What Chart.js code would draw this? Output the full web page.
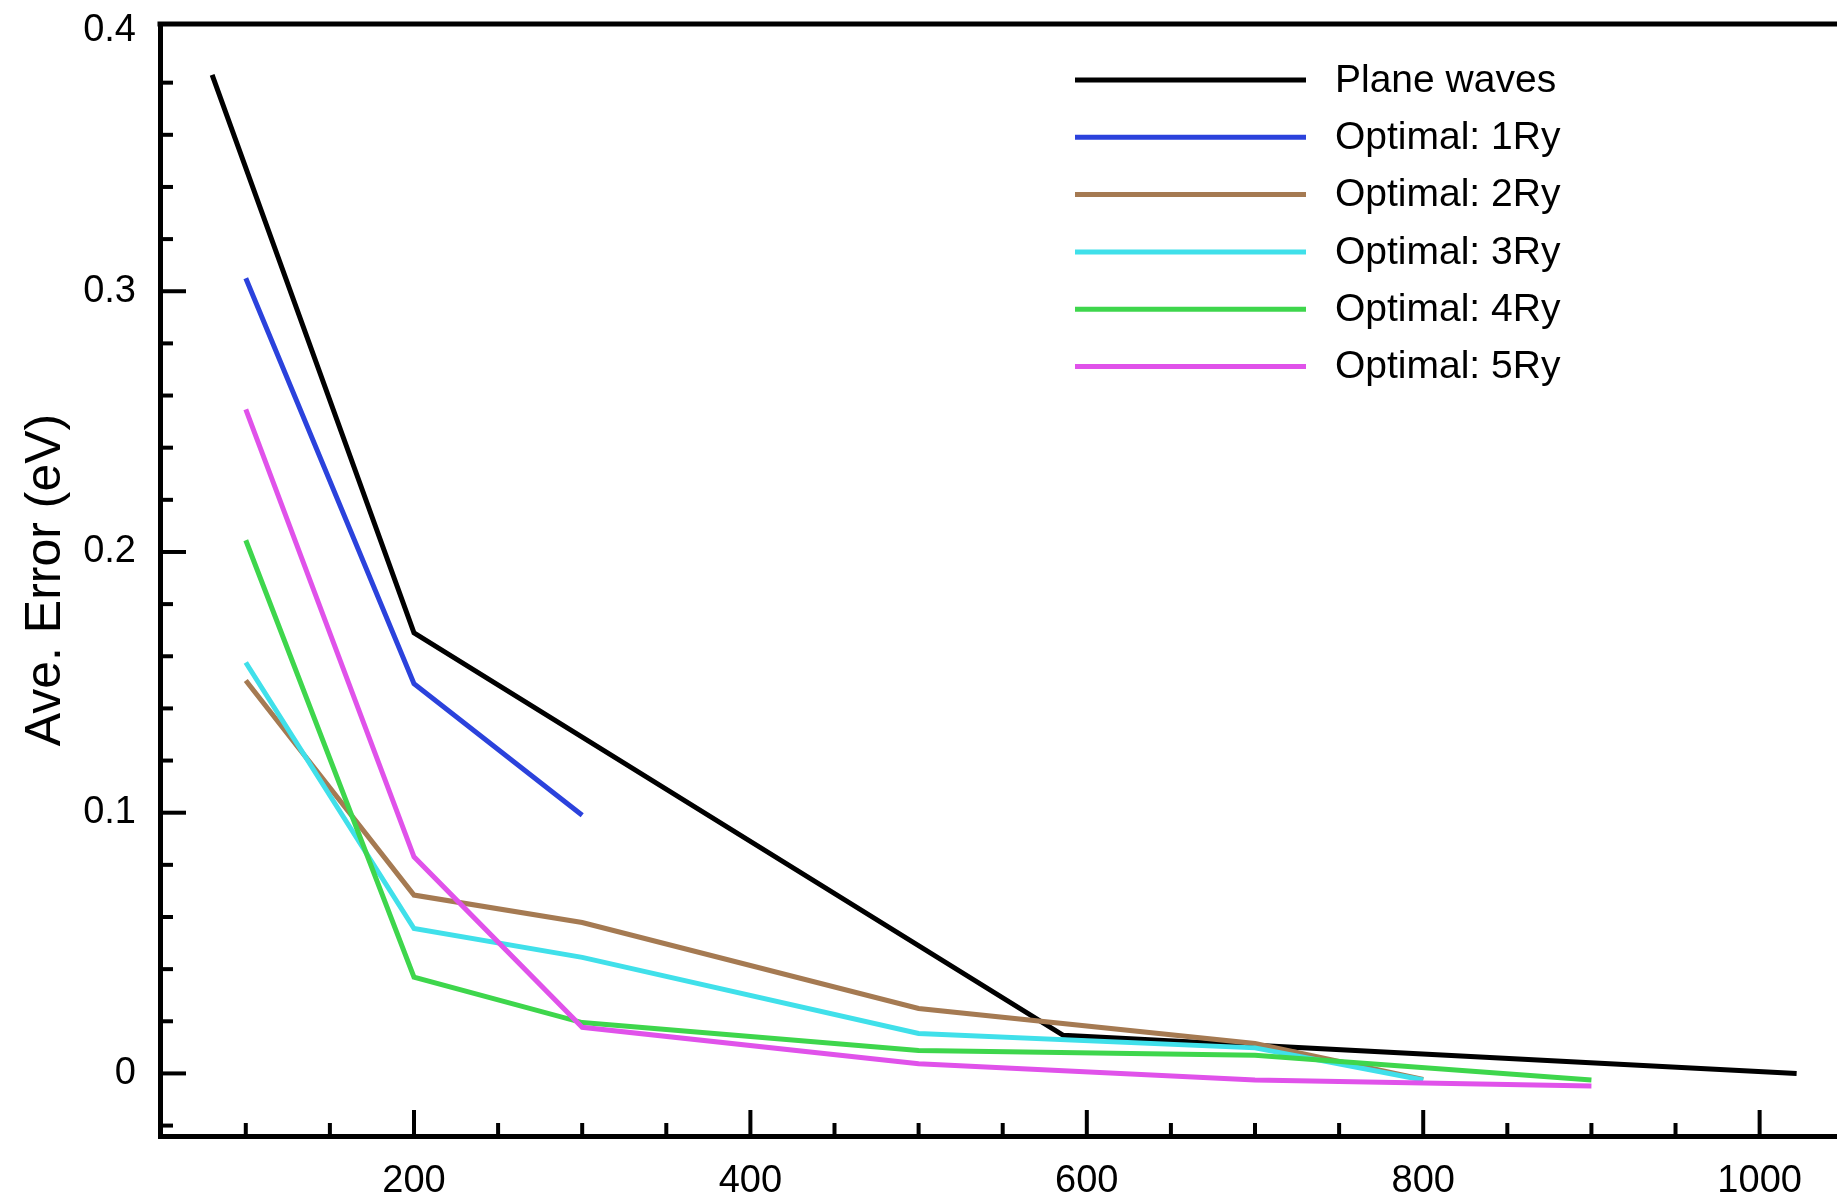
<!DOCTYPE html>
<html>
<head>
<meta charset="utf-8">
<script src="https://cdn.jsdelivr.net/npm/chart.js"></script>
<style>
  html, body { margin: 0; padding: 0; background: #fff; }
  #wrap { width: 1837px; height: 1201px; }
</style>
</head>
<body>
<div id="wrap"><canvas id="errChart" width="1837" height="1201"></canvas></div>
<script>
// datos
const seriesNames = ['Plane waves', 'Optimal: 1Ry', 'Optimal: 2Ry', 'Optimal: 3Ry', 'Optimal: 4Ry', 'Optimal: 5Ry'];
const seriesColors = ['#000000', '#2b42dc', '#a57a52', '#40e0ea', '#3ed64c', '#e052ea'];

const pwX = [80, 200, 586, 1022];
const pwY = [0.383, 0.169, 0.0146, 0.0];
const ry1X = [100, 200, 300];
const ry1Y = [0.305, 0.1495, 0.099];
const ry2X = [100, 200, 300, 500, 700, 800];
const ry2Y = [0.1507, 0.0684, 0.0579, 0.0249, 0.0115, -0.0023];
const ry3X = [100, 200, 300, 500, 700, 800];
const ry3Y = [0.1576, 0.0556, 0.0445, 0.0153, 0.0098, -0.0025];
const ry4X = [100, 200, 300, 500, 700, 900];
const ry4Y = [0.2045, 0.0369, 0.0195, 0.0088, 0.007, -0.0025];
const ry5X = [100, 200, 300, 500, 700, 900];
const ry5Y = [0.2547, 0.0831, 0.0177, 0.0037, -0.0025, -0.0048];

const xTicks = [200, 400, 600, 800, 1000];
const yTicks = [0, 0.1, 0.2, 0.3, 0.4];

const FONT = "'Liberation Sans', Arial, Helvetica, sans-serif";

function toPoints(xs, ys) {
    return xs.map((x, i) => ({ x: x, y: ys[i] }));
}

const allX = [pwX, ry1X, ry2X, ry3X, ry4X, ry5X];
const allY = [pwY, ry1Y, ry2Y, ry3Y, ry4Y, ry5Y];

const datasets = seriesNames.map((name, i) => ({
    label: name,
    data: toPoints(allX[i], allY[i]),
    borderColor: seriesColors[i],
    backgroundColor: seriesColors[i],
    borderWidth: 5,
    pointRadius: 0,
    tension: 0,
    fill: false,
    order: seriesNames.length - i
}));

// marcas hacia dentro, borde superior y leyenda
const framePlugin = {
    id: 'frame',
    afterDraw(chart) {
        const ctx = chart.ctx;
        const area = chart.chartArea;
        const xs = chart.scales.x;
        const ys = chart.scales.y;
        ctx.save();
        ctx.strokeStyle = '#000';
        ctx.lineWidth = 4;
        ctx.lineCap = 'butt';

        // y: mayores cada 0.1, menores cada 0.02
        for (let k = -1; k <= 19; k++) {
            const v = k * 0.02;
            const major = k % 5 === 0;
            const py = ys.getPixelForValue(v);
            if (py < area.top || py > area.bottom) continue;
            ctx.beginPath();
            ctx.moveTo(area.left, py);
            ctx.lineTo(area.left + (major ? 26 : 13), py);
            ctx.stroke();
        }
        // x: mayores cada 200, menores cada 50
        for (let v = 100; v <= 1040; v += 50) {
            const major = v % 200 === 0;
            const px = xs.getPixelForValue(v);
            ctx.beginPath();
            ctx.moveTo(px, area.bottom);
            ctx.lineTo(px, area.bottom - (major ? 26 : 13));
            ctx.stroke();
        }

        // borde superior
        ctx.lineWidth = 5;
        ctx.beginPath();
        ctx.moveTo(area.left - 2.5, area.top);
        ctx.lineTo(chart.width, area.top);
        ctx.stroke();

        // leyenda
        const lg = chart.options.plugins.frame;
        ctx.font = lg.fontSize + 'px ' + FONT;
        ctx.textBaseline = 'middle';
        ctx.textAlign = 'left';
        chart.data.datasets.forEach((ds, i) => {
            const y = lg.top + i * lg.rowGap;
            ctx.strokeStyle = ds.borderColor;
            ctx.lineWidth = 5;
            ctx.beginPath();
            ctx.moveTo(lg.lineStart, y);
            ctx.lineTo(lg.lineEnd, y);
            ctx.stroke();
            ctx.fillStyle = '#000';
            ctx.fillText(ds.label, lg.textStart, y + 1);
        });
        ctx.restore();
    }
};

new Chart(document.getElementById('errChart'), {
    type: 'line',
    data: { datasets: datasets },
    plugins: [framePlugin],
    options: {
        responsive: false,
        animation: false,
        layout: { padding: { top: 24, right: 0, bottom: 0, left: 0 } },
        plugins: {
            legend: { display: false },
            tooltip: { enabled: false },
            frame: { top: 80, rowGap: 57.3, lineStart: 1075, lineEnd: 1306, textStart: 1335, fontSize: 39 }
        },
        scales: {
            x: {
                type: 'linear',
                min: 49,
                max: 1046,
                afterFit: function(scale) { scale.height = 65; },
                afterBuildTicks: function(scale) {
                    scale.ticks = xTicks.map(v => ({ value: v }));
                },
                grid: { display: false, drawTicks: false },
                border: { display: true, color: '#000', width: 5 },
                ticks: {
                    color: '#000',
                    padding: 23,
                    maxRotation: 0,
                    autoSkip: false,
                    font: { family: FONT, size: 38 },
                    callback: function(value) { return String(value); }
                }
            },
            y: {
                type: 'linear',
                min: -0.024,
                max: 0.4025,
                afterFit: function(scale) {
                    scale.width = 160;
                    scale.paddingTop = 0;
                    scale.paddingBottom = 0;
                },
                afterBuildTicks: function(scale) {
                    scale.ticks = yTicks.map(v => ({ value: v }));
                },
                grid: { display: false, drawTicks: false },
                border: { display: true, color: '#000', width: 5 },
                title: {
                    display: true,
                    text: 'Ave. Error (eV)',
                    color: '#000',
                    font: { family: FONT, size: 50 },
                    padding: { top: 16, bottom: 0 }
                },
                ticks: {
                    color: '#000',
                    padding: 24,
                    autoSkip: false,
                    font: { family: FONT, size: 38 },
                    callback: function(value) {
                        return value === 0 ? '0' : String(Math.round(value * 10) / 10);
                    }
                }
            }
        }
    }
});
</script>
</body>
</html>
